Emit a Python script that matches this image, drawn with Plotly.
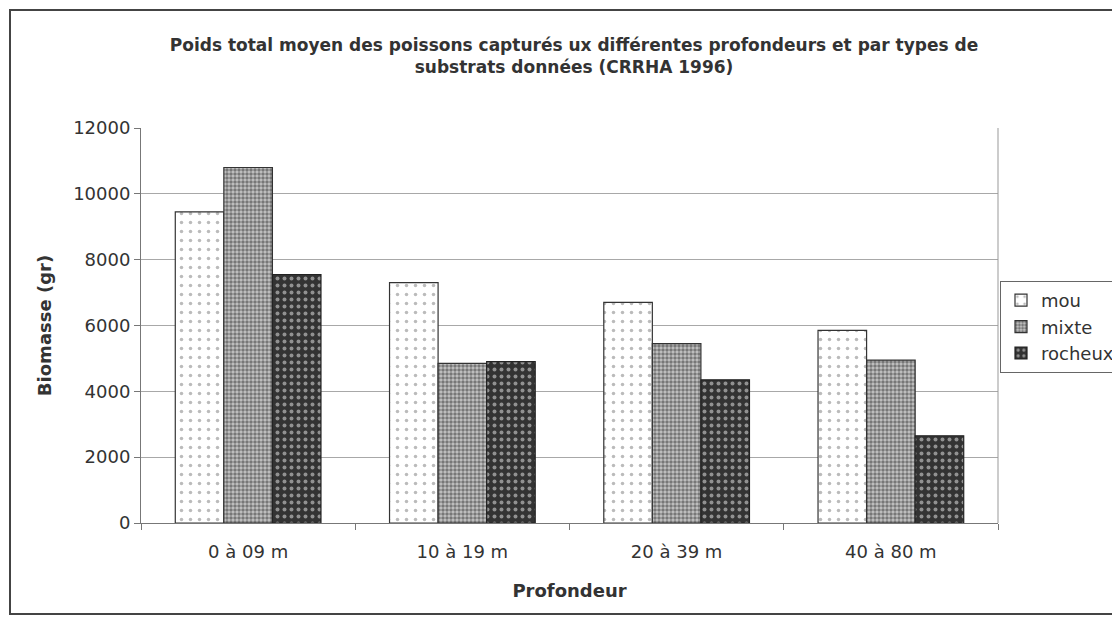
import plotly.graph_objects as go

categories = ["0 à 09 m", "10 à 19 m", "20 à 39 m", "40 à 80 m"]
mou = [9450, 7300, 6700, 5850]
mixte = [10800, 4850, 5450, 4950]
rocheux = [7550, 4900, 4350, 2650]
y_ticks = [0, 2000, 4000, 6000, 8000, 10000, 12000]
y_ticktext = ["0", "2000", "4000", "6000", "8000", "10000", "12000"]

FONT = "DejaVu Sans, Liberation Sans, Arial, sans-serif"
OFF = 8  # page body margin

fig = go.Figure()
fig.add_trace(go.Bar(
    name="mou", x=categories, y=mou,
    marker=dict(color="white", line=dict(color="#333333", width=1.2),
                pattern=dict(shape=".", fgcolor="#777777", bgcolor="white", size=9, solidity=0.12)),
))
fig.add_trace(go.Bar(
    name="mixte", x=categories, y=mixte,
    marker=dict(color="#bbbbbb", line=dict(color="#333333", width=1.2),
                pattern=dict(shape=".", fgcolor="#2a2a2a", bgcolor="#c4c4c4", size=4, solidity=0.6)),
))
fig.add_trace(go.Bar(
    name="rocheux", x=categories, y=rocheux,
    marker=dict(color="#3a3a3a", line=dict(color="#222222", width=1.2),
                pattern=dict(shape=".", fgcolor="#f0f0f0", bgcolor="#333333", size=7, solidity=0.25)),
))

# target plot area in screenshot pixels
SX0, SX1, SY0, SY1 = 141, 998, 128, 523
L, T = SX0 - OFF, SY0 - OFF
W, H = SX1 - SX0, SY1 - SY0
R, B = 1120 - L - W, 626 - T - H

def px(sx):
    return (sx - OFF - L) / W

def py(sy):
    return (T + H - (sy - OFF)) / H

fig.update_layout(
    width=1120, height=626,
    margin=dict(l=L, r=R, t=T, b=B, autoexpand=False),
    paper_bgcolor="white", plot_bgcolor="white",
    barmode="group", bargap=0.32, bargroupgap=0,
    font=dict(family=FONT, color="#333333", size=18),
    title=dict(
        text="<b>Poids total moyen des poissons capturés ux différentes profondeurs et par types de<br>substrats données (CRRHA 1996)</b>",
        x=px(574), xref="paper", xanchor="center",
        y=1 - (51 - OFF) / 626, yref="container", yanchor="top",
        font=dict(family=FONT, size=17, color="#333333"),
    ),
    xaxis=dict(
        title=dict(text="<b>Profondeur</b>", font=dict(size=18, color="#333333"), standoff=23),
        tickson="boundaries", ticks="outside", ticklen=6, tickcolor="#777777",
        ticklabelstandoff=12,
        showline=True, linecolor="#777777", linewidth=1, automargin=False,
        tickfont=dict(size=18, color="#333333"),
    ),
    yaxis=dict(
        title=dict(text="<b>Biomasse (gr)</b>", font=dict(size=18, color="#333333"), standoff=16),
        range=[0, 12000], tickvals=y_ticks, ticktext=y_ticktext,
        ticks="outside", ticklen=6, tickcolor="#777777",
        showline=True, linecolor="#777777", linewidth=1, automargin=False,
        showgrid=True, gridcolor="#a8a8a8", gridwidth=1, zeroline=False,
        tickfont=dict(size=18, color="#333333"),
    ),
    legend=dict(
        x=px(1000), y=py(281), xanchor="left", yanchor="top",
        bordercolor="#666666", borderwidth=1, bgcolor="white",
        font=dict(size=18, color="#333333"), tracegroupgap=0,
        itemwidth=30,
    ),
    showlegend=True,
    shapes=[
        dict(type="line", xref="paper", yref="paper", x0=1, x1=1, y0=0, y1=1,
             line=dict(color="#999999", width=1)),
        dict(type="rect", xref="paper", yref="paper",
             x0=px(10), x1=px(1140), y0=py(614), y1=py(10),
             line=dict(color="#444444", width=2), fillcolor="rgba(0,0,0,0)", layer="below"),
    ],
)

fig.write_html("out.html")
